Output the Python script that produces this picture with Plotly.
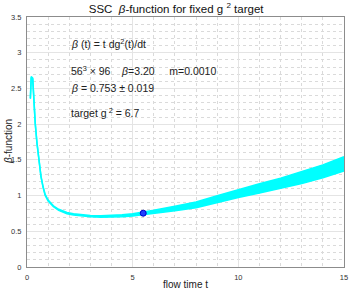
import plotly.graph_objects as go

# flow time samples and beta-function band (centre and half-width)
t = [0.16, 0.20, 0.27, 0.31, 0.39, 0.47, 0.55, 0.66, 0.76, 0.86, 1.0, 1.12, 1.25, 1.5, 1.89,
     2.2, 2.5, 3.0, 3.5, 4.0, 4.5, 5.0, 5.5, 6.0, 7.0, 8.0, 9.0, 10.0, 11.0, 12.0, 13.0, 14.0, 15.0]
beta_center = [2.36, 2.66, 2.64, 2.41, 2.01, 1.74, 1.50, 1.27, 1.12, 1.01, 0.93, 0.885, 0.85,
               0.80, 0.754, 0.736, 0.725, 0.712, 0.706, 0.708, 0.717, 0.73, 0.75, 0.77, 0.82,
               0.87, 0.95, 1.03, 1.10, 1.17, 1.25, 1.34, 1.445]
beta_halfwidth = [0.006, 0.006, 0.006, 0.006, 0.006, 0.006, 0.006, 0.006, 0.006, 0.007, 0.007,
                  0.007, 0.007, 0.008, 0.008, 0.009, 0.009, 0.010, 0.011, 0.013, 0.015, 0.017,
                  0.020, 0.024, 0.032, 0.040, 0.048, 0.057, 0.065, 0.073, 0.082, 0.090, 0.100]

point_t = [5.5]
point_beta = [0.753]

x_ticks = [0, 5, 10, 15]
y_ticks = [0, 0.5, 1, 1.5, 2, 2.5, 3, 3.5]
y_ticklabels = ["0", "0.5", "1", "1.5", "2", "2.5", "3", "3.5"]

upper = [c + h for c, h in zip(beta_center, beta_halfwidth)]
lower = [c - h for c, h in zip(beta_center, beta_halfwidth)]

CYAN = "#00ffff"
FONT = "Liberation Sans, Arial, sans-serif"

L, R, T, B = 27, 5, 17, 26
W, H = 349, 293
pw, ph = W - L - R, H - T - B


def px_x(x):
    return (x - L) / pw


def px_y(y):
    return 1 - (y - T) / ph


fig = go.Figure()
fig.add_trace(go.Scatter(x=t, y=lower, mode="lines", line=dict(color=CYAN, width=1.5),
                         showlegend=False, hoverinfo="skip"))
fig.add_trace(go.Scatter(x=t, y=upper, mode="lines", line=dict(color=CYAN, width=1.5),
                         fill="tonexty", fillcolor=CYAN, showlegend=False, hoverinfo="skip"))
fig.add_trace(go.Scatter(x=point_t, y=point_beta, mode="markers",
                         marker=dict(color="#1f3fff", size=6, line=dict(color="#0000cc", width=1)),
                         showlegend=False))

ann_font = dict(family=FONT, size=10.5, color="#222222")
texts = [
    (43, "<i>β</i> (t) = t dg<sup>2</sup>(t)/dt"),
    (70, "56<sup>3</sup> × 96 &nbsp;&nbsp; <i>β</i>=3.20 &nbsp;&nbsp;&nbsp; m=0.0010"),
    (88, "<i>β</i> = 0.753 ± 0.019"),
    (112, "target g<sup> 2</sup> = 6.7"),
]
for ypx, txt in texts:
    fig.add_annotation(x=px_x(69), y=px_y(ypx), xref="paper", yref="paper", text=txt,
                       showarrow=False, xanchor="left", yanchor="middle", font=ann_font)

# axis titles
fig.add_annotation(x=px_x(185), y=px_y(284), xref="paper", yref="paper", text="flow time t",
                   showarrow=False, xanchor="center", yanchor="middle",
                   font=dict(family=FONT, size=10, color="#222222"))
fig.add_annotation(x=px_x(8), y=px_y(142), xref="paper", yref="paper", text="<i>β</i>-function",
                   showarrow=False, xanchor="center", yanchor="middle", textangle=-90,
                   font=dict(family=FONT, size=10, color="#222222"))

fig.update_layout(
    width=W, height=H,
    margin=dict(l=L, r=R, t=T, b=B, autoexpand=False),
    paper_bgcolor="white", plot_bgcolor="white",
    title=dict(text="SSC  <i>β</i>-function for fixed g <sup>2</sup> target", x=px_x(187),
               xanchor="center", y=1 - 9 / H, yanchor="middle",
               font=dict(family=FONT, size=11.5, color="#111111")),
    font=dict(family=FONT),
)
fig.update_xaxes(range=[0, 15], tickvals=x_ticks, ticks="", showline=True, linecolor="#8c8c8c",
                 linewidth=1, mirror=True, showgrid=True, gridcolor="#e4e4e4", gridwidth=1,
                 minor=dict(dtick=1, showgrid=True, gridcolor="#dadada", griddash="dot", gridwidth=1),
                 zeroline=False, tickfont=dict(size=7.5, color="#333333"), automargin=False,
                 ticklabelstandoff=3)
fig.update_yaxes(range=[0, 3.5], tickvals=y_ticks, ticktext=y_ticklabels, ticks="", showline=True,
                 linecolor="#8c8c8c", linewidth=1, mirror=True, showgrid=True, gridcolor="#e4e4e4",
                 gridwidth=1,
                 minor=dict(dtick=0.1, showgrid=True, gridcolor="#dadada", griddash="dot", gridwidth=1),
                 zeroline=False, tickfont=dict(size=7.5, color="#333333"), automargin=False,
                 ticklabelstandoff=3)

fig.write_html("out.html", config={"displayModeBar": False},
               post_script="document.body.style.margin='0';")
